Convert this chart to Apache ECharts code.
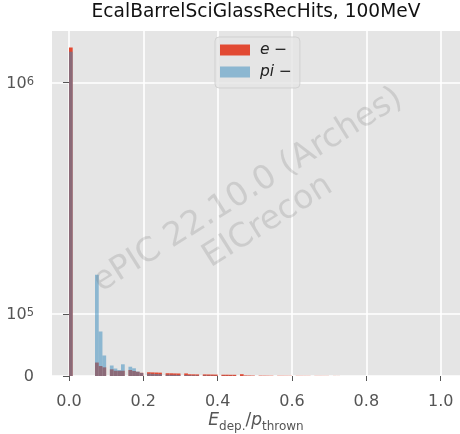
<!DOCTYPE html>
<html>
<head>
<meta charset="utf-8">
<script src="https://cdn.jsdelivr.net/npm/echarts@6/dist/echarts.min.js"></script>
<style>
  html, body { margin: 0; padding: 0; background: #fff; }
  #chart { width: 460px; height: 434px; }
</style>
</head>
<body>
<div id="chart"></div>
<script>
// Histogram of deposited energy fraction, 0.01-wide bins starting at 0
const binWidth = 0.01;

// electron counts per bin
const eCounts = [
  1330000, 0, 0, 0, 0, 0, 0, 21000, 15500, 13500,
  0, 10400, 8200, 8000, 8200, 0, 9300, 7800, 6500, 5000,
  0, 5800, 5600, 5400, 5200, 0, 4300, 4200, 4000, 3900,
  0, 4000, 2700, 2600, 2500, 0, 2500, 2400, 2300, 2200,
  0, 2000, 2000, 1900, 1900, 0, 2800, 900, 800, 700,
  0, 600, 550, 500, 450, 0, 400, 380, 350, 330,
  0, 300, 280, 260, 250, 0, 230, 220, 200, 190,
  0, 150, 120
];

// pion counts per bin
const piCounts = [
  1285000, 0, 0, 0, 0, 0, 0, 175000, 70600, 32000,
  0, 16300, 11600, 9300, 18200, 0, 14400, 12000, 7000, 4800,
  0, 3800, 3400, 3100, 2900, 0, 2200, 2000, 1900, 1700,
  0, 1500, 1100, 1000, 900, 0, 800, 700, 600, 500,
  0, 400, 350, 300, 250, 0, 200, 150, 120, 100,
  0, 80, 60, 50, 40
];

const seriesNames = ['e', 'pi'];
const xTickValues = [0, 0.2, 0.4, 0.6, 0.8, 1.0];
const yTickCounts = [0, 1e5, 1e6];

// asinh-compressed count axis
const linearWidth = 195000;
const toAxis = c => Math.asinh(c / linearWidth);
const fromAxis = v => linearWidth * Math.sinh(v);

function binData(counts) {
  const out = [];
  counts.forEach((c, k) => {
    if (c > 0) out.push([k * binWidth, (k + 1) * binWidth, toAxis(c)]);
  });
  return out;
}

const yMax = 1.05 * toAxis(Math.max(...eCounts, ...piCounts));

function barRenderer(fill) {
  return function (params, api) {
    const p0 = api.coord([api.value(0), api.value(2)]);
    const p1 = api.coord([api.value(1), 0]);
    return {
      type: 'rect',
      shape: { x: p0[0], y: p0[1], width: p1[0] - p0[0], height: p1[1] - p0[1] },
      style: { fill: fill }
    };
  };
}

const FONT = 'DejaVu Sans';
const eColor = '#E24A33';
const piColor = 'rgba(52,138,189,0.5)';

const chart = echarts.init(document.getElementById('chart'), null, { renderer: 'canvas' });

chart.setOption({
  animation: false,
  backgroundColor: '#ffffff',
  title: {
    text: 'EcalBarrelSciGlassRecHits, 100MeV',
    left: 256,
    textAlign: 'center',
    top: 3,
    padding: 0,
    textStyle: { fontFamily: FONT, fontSize: 18.6, fontWeight: 'normal', color: '#111' }
  },
  grid: {
    left: 52, right: 0, top: 31, bottom: 58,
    outerBoundsMode: 'none',
    containLabel: false,
    show: true, backgroundColor: '#E5E5E5', borderWidth: 0
  },
  legend: {
    orient: 'vertical',
    left: 215, top: 37,
    padding: [5, 8, 8, 5],
    itemGap: 6,
    itemWidth: 30, itemHeight: 11,
    backgroundColor: 'rgba(229,229,229,0.8)',
    borderColor: 'rgba(204,204,204,0.8)',
    borderWidth: 1,
    borderRadius: 4,
    data: [
      { name: seriesNames[0], icon: 'rect', itemStyle: { color: eColor } },
      { name: seriesNames[1], icon: 'rect', itemStyle: { color: piColor } }
    ],
    formatter: name => '{i|' + name + '} {n|\u2212}',
    textStyle: {
      fontFamily: FONT, fontSize: 15, color: '#222',
      rich: {
        i: { fontFamily: FONT, fontStyle: 'italic', fontSize: 15.5, lineHeight: 17, color: '#222', padding: [0, 0, 0, 5] },
        n: { fontFamily: FONT, fontSize: 15.5, lineHeight: 17, color: '#222' }
      }
    }
  },
  xAxis: {
    type: 'value',
    min: -0.0457, max: 1.052,
    offset: 2,
    axisLine: { show: false },
    axisTick: { show: true, length: 5, customValues: xTickValues, lineStyle: { color: '#555', width: 1 } },
    axisLabel: {
      customValues: xTickValues,
      margin: 16,
      formatter: v => v.toFixed(1),
      fontFamily: FONT, fontSize: 16, color: '#555'
    },
    splitLine: { show: true, lineStyle: { color: '#ffffff', width: 1.6 } },
    name: '{i|E}{s|dep.}{n|/}{i|p}{s|thrown}',
    nameLocation: 'middle',
    nameMoveOverlap: false,
    nameGap: 34,
    nameTextStyle: {
      rich: {
        i: { fontFamily: FONT, fontStyle: 'italic', fontSize: 17, lineHeight: 20, verticalAlign: 'top', color: '#555' },
        n: { fontFamily: FONT, fontSize: 17, lineHeight: 20, verticalAlign: 'top', color: '#555' },
        s: { fontFamily: FONT, fontSize: 12, lineHeight: 12, padding: [9, 0, 0, 0], verticalAlign: 'top', color: '#555' }
      }
    }
  },
  yAxis: {
    type: 'value',
    min: 0, max: yMax,
    axisLine: { show: false },
    axisTick: { show: true, length: 6, customValues: yTickCounts.map(toAxis), lineStyle: { color: '#555', width: 1 } },
    axisLabel: {
      customValues: yTickCounts.map(toAxis),
      margin: 18,
      padding: [8, 0, 0, 0],
      formatter: v => {
        const c = fromAxis(v);
        if (c < 1) return '{b|0}';
        return '{b|10}{s|' + Math.round(Math.log10(c)) + '}';
      },
      rich: {
        b: { fontFamily: FONT, fontSize: 16, lineHeight: 22, verticalAlign: 'top', color: '#555' },
        s: { fontFamily: FONT, fontSize: 11.5, lineHeight: 10, verticalAlign: 'top', color: '#555' }
      }
    },
    splitLine: { show: true, lineStyle: { color: '#ffffff', width: 1.6 } }
  },
  graphic: [
    {
      type: 'text',
      x: 258, y: 206,
      rotation: 32 * Math.PI / 180,
      z: 10,
      silent: true,
      style: {
        text: 'ePIC 22.10.0 (Arches)\nEICrecon',
        fontFamily: FONT,
        fontSize: 33,
        lineHeight: 37,
        fill: 'rgba(120,120,120,0.22)',
        align: 'center',
        verticalAlign: 'middle'
      }
    }
  ],
  series: [
    {
      name: seriesNames[0],
      type: 'custom',
      renderItem: barRenderer(eColor),
      encode: { x: [0, 1], y: 2 },
      itemStyle: { color: eColor },
      data: binData(eCounts),
      z: 2
    },
    {
      name: seriesNames[1],
      type: 'custom',
      renderItem: barRenderer(piColor),
      encode: { x: [0, 1], y: 2 },
      itemStyle: { color: piColor },
      data: binData(piCounts),
      z: 3
    }
  ]
});
</script>
</body>
</html>
